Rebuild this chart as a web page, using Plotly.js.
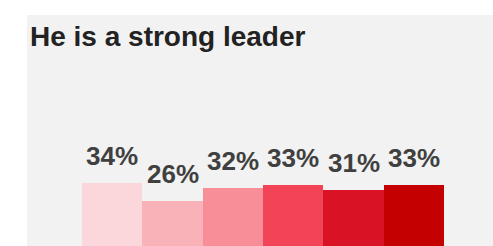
<!DOCTYPE html>
<html>
<head>
<meta charset="utf-8">
<script src="https://cdn.plot.ly/plotly-3.0.1.min.js"></script>
<style>html,body{margin:0;padding:0;background:#fff;}#chart{width:493px;height:246px;}</style>
</head>
<body>
<div id="chart"></div>
<script>
var categories = ["A", "B", "C", "D", "E", "F"];
var values = [34, 26, 32, 33, 31, 33];
var labels = ["34%", "26%", "32%", "33%", "31%", "33%"];
var colors = ["#fbd6db", "#f8b2b8", "#f88e98", "#f24456", "#d91226", "#c40000"];

var xs = categories.map(function (c, i) { return i; });

var trace = {
  type: "bar",
  x: xs,
  y: values,
  marker: { color: colors, line: { width: 0 } },
  width: 1,
  hoverinfo: "none"
};

var annotations = values.map(function (v, i) {
  return {
    x: xs[i], y: v, xref: "x", yref: "y",
    text: labels[i], showarrow: false,
    xanchor: "center", yanchor: "bottom", yshift: 10,
    font: { family: "Liberation Sans, Arial, sans-serif", size: 26, color: "#404040", weight: 700 }
  };
});

var layout = {
  width: 493, height: 246,
  margin: { l: 27, r: 0, t: 15, b: 0, pad: 0 },
  paper_bgcolor: "#ffffff",
  plot_bgcolor: "#f2f2f2",
  showlegend: false,
  bargap: 0,
  title: {
    text: "<b>He is a strong leader</b>",
    font: { family: "Liberation Sans, Arial, sans-serif", size: 28, color: "#222222" },
    xref: "container", yref: "container",
    x: 30 / 493, xanchor: "left",
    y: 1 - 46 / 246, yanchor: "bottom"
  },
  xaxis: { range: [-1.412, 6.312], showgrid: false, zeroline: false, showticklabels: false, ticks: "", showline: false, fixedrange: true },
  yaxis: { range: [6, 108.67], showgrid: false, zeroline: false, showticklabels: false, ticks: "", showline: false, fixedrange: true },
  annotations: annotations
};

Plotly.newPlot("chart", [trace], layout, { displayModeBar: false, staticPlot: true });
</script>
</body>
</html>
